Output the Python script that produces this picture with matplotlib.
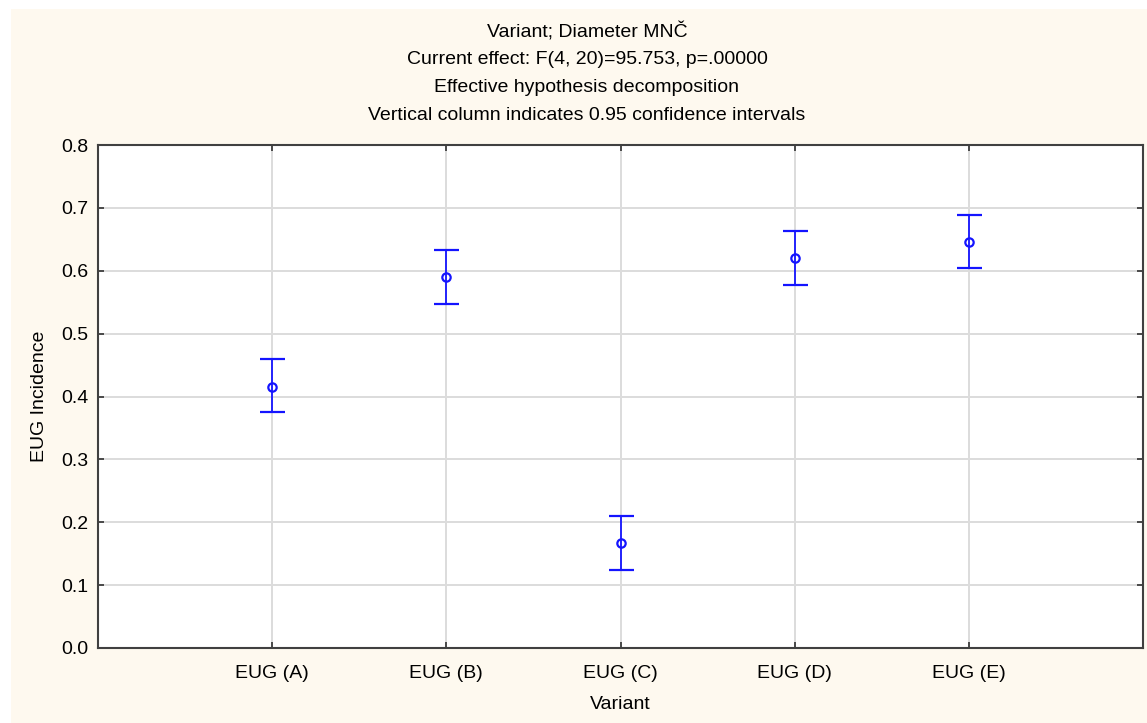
import numpy as np
import matplotlib.pyplot as plt
from matplotlib.patches import Rectangle

# Data
variants = ['EUG (A)', 'EUG (B)', 'EUG (C)', 'EUG (D)', 'EUG (E)']
means = [0.415, 0.590, 0.167, 0.620, 0.645]
upper = [0.459, 0.633, 0.210, 0.663, 0.688]
lower = [0.375, 0.547, 0.124, 0.577, 0.604]

title_lines = [
    'Variant; Diameter MNČ',
    'Current effect: F(4, 20)=95.753, p=.00000',
    'Effective hypothesis decomposition',
    'Vertical column indicates 0.95 confidence intervals',
]

plt.rcParams['font.family'] = ['Liberation Sans', 'DejaVu Sans']
FS = 14

W, H = 1147, 723
fig = plt.figure(figsize=(W / 100, H / 100), dpi=100, facecolor='white')

# beige panel behind the whole chart
fig.patches.append(Rectangle((11 / W, 0), 1 - 11 / W, 1 - 9 / H,
                             transform=fig.transFigure, facecolor='#fef9ef',
                             edgecolor='none', zorder=-5))

ax = fig.add_axes([98 / W, 1 - 648 / H, (1143 - 98) / W, (648 - 145) / H])
ax.set_zorder(2)
ax.set_facecolor('white')

x = np.arange(1, len(variants) + 1)
m = np.array(means)
err = [m - np.array(lower), np.array(upper) - m]
ax.errorbar(x, m, yerr=err, fmt='o', color='#1414ff', ecolor='#1414ff',
            markerfacecolor='none', markeredgewidth=1.6, markersize=6,
            elinewidth=1.3, capsize=9, capthick=1.3, zorder=3)

ax.set_xlim(0, 6)
ax.set_ylim(0, 0.8)
ax.set_xticks(x)
ax.set_xticklabels(variants)
ax.set_yticks(np.arange(0, 0.81, 0.1))
ax.set_yticklabels([f'{v:.1f}' for v in np.arange(0, 0.81, 0.1)])
ax.grid(True, color='#dcdcdc', linewidth=1.4)
ax.set_axisbelow(True)
ax.tick_params(direction='in', length=4, width=1.2, color='#303030',
               top=True, right=True, labelsize=FS)
ax.tick_params(axis='x', pad=12)
ax.tick_params(axis='y', pad=7)
for s in ax.spines.values():
    s.set_color('#404040')
    s.set_linewidth(1.5)

ax.set_xlabel('Variant', fontsize=FS, labelpad=10)
ax.set_ylabel('EUG Incidence', fontsize=FS, labelpad=9.5)

for i, line in enumerate(title_lines):
    fig.text(587 / W, 1 - (32.5 + i * 27.5) / H, line, ha='center', va='center',
             fontsize=FS)

fig.savefig('out.png', dpi=100, facecolor=fig.get_facecolor())
